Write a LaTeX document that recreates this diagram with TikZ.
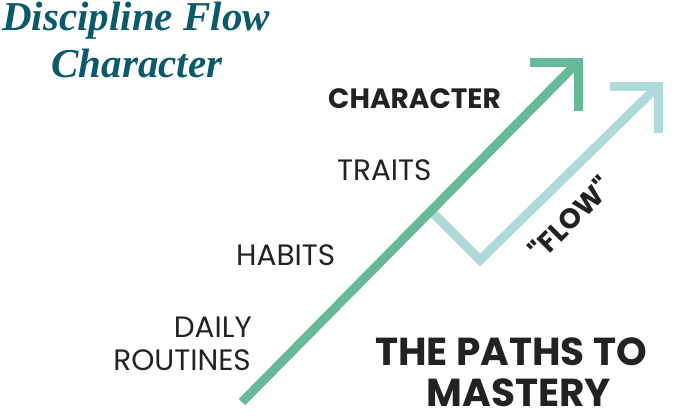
\documentclass[tikz,border=0pt]{standalone}
\usepackage{fontspec}
\setmainfont{Liberation Serif}
\newfontfamily\popfont{Poppins}
\definecolor{pathgreen}{HTML}{66BA97}
\definecolor{flowblue}{HTML}{AEDADB}
\definecolor{titleteal}{HTML}{0B5A6B}
\definecolor{ink}{HTML}{222222}
\tikzset{
  title/.style={font=\fontsize{41}{41}\selectfont\bfseries\itshape, text=titleteal, inner sep=0pt},
  stage/.style={font=\popfont\fontsize{29.5}{29.5}\selectfont, text=ink, inner sep=0pt},
  stagebold/.style={font=\popfont\fontsize{28}{28}\selectfont\bfseries, text=ink, inner sep=0pt},
  mastery/.style={font=\popfont\fontsize{39}{39}\selectfont\bfseries, text=ink, inner sep=0pt},
  greenpath/.style={draw=pathgreen, line width=9pt, line join=miter},
  bluepath/.style={draw=flowblue, line width=9pt, line join=miter},
}
\begin{document}
\begin{tikzpicture}[x=1pt, y=-1pt]
\useasboundingbox (0,0) rectangle (676,418);

% title
\node[title, anchor=base] (t1) at (136,30) {Discipline Flow};
\node[title, anchor=base] (t2) at (137,77) {Character};

% stage labels
\node[stagebold, anchor=base west] (character) at (328,108) {CHARACTER};
\node[stage, anchor=base west] (traits) at (337,180) {TRAITS};
\node[stage, anchor=base west] (habits) at (236,265) {HABITS};
\node[stage, anchor=base east] (daily) at (252,337) {DAILY};
\node[stage, anchor=base east] (routines) at (251,370) {ROUTINES};

% path coordinates
\coordinate (g0) at (242,402);
\coordinate (gtip) at (578,62);
\coordinate (gleft) at (530,62);
\coordinate (gdown) at (578,111);
\coordinate (b0) at (432,212);
\coordinate (b1) at (480,260);
\coordinate (btip) at (658,86);
\coordinate (bleft) at (610,86);
\coordinate (bdown) at (658,133);

% flow path
\draw[bluepath] (b0) -- (b1) -- (btip);
\draw[bluepath] (bleft) -- (btip) -- (bdown);

% direct path
\draw[greenpath] (g0) -- (gtip);
\draw[greenpath] (gleft) -- (gtip) -- (gdown);

% flow label
\node[stagebold, rotate=45] (flow) at (570,218) {"FLOW"};

% caption
\node[mastery, anchor=base] (m1) at (511,365) {THE PATHS TO};
\node[mastery, anchor=base] (m2) at (519,406) {MASTERY};
\end{tikzpicture}
\end{document}
